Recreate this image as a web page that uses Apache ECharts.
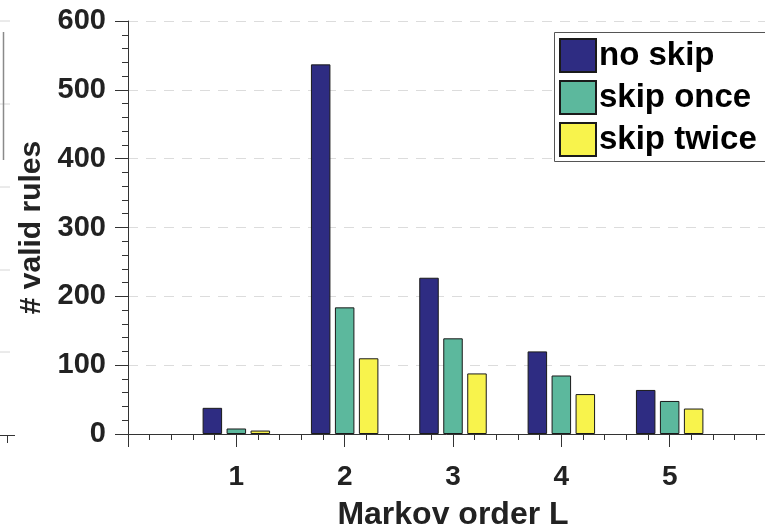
<!DOCTYPE html>
<html>
<head>
<meta charset="utf-8">
<style>
  html, body { margin: 0; padding: 0; background: #ffffff; }
  #chart { width: 765px; height: 527px; }
</style>
<script src="https://cdn.jsdelivr.net/npm/echarts@6/dist/echarts.min.js"></script>
</head>
<body>
<div id="chart"></div>
<script>
// Markov order on the x axis
const orders = [1, 2, 3, 4, 5];
// Number of valid rules per order
const noSkip    = [38, 537, 227, 120, 64];
const skipOnce  = [8, 184, 139, 85, 48];
const skipTwice = [5, 110, 88, 58, 37];
const seriesNames = ['no skip', 'skip once', 'skip twice'];
const yTicks = [0, 100, 200, 300, 400, 500, 600];

const FONT = '"Liberation Sans", Arial, Helvetica, sans-serif';
const colors = ['#2e2c82', '#5cb89d', '#f8f34c'];

function pairs(values) {
  return orders.map((o, i) => [o, values[i]]);
}

function barSeries(name, values, color) {
  return {
    name: name,
    type: 'bar',
    data: pairs(values),
    barWidth: 19.5,
    barGap: '23%',
    itemStyle: { color: color, borderColor: '#1a1a1a', borderWidth: 1 },
    emphasis: { disabled: true }
  };
}

const chart = echarts.init(document.getElementById('chart'), null, { renderer: 'canvas' });

// pieces of the neighbouring panel visible on the far left
const decor = [];
[21, 104, 187, 270, 352].forEach(function (y) {
  decor.push({ type: 'line', shape: { x1: 0, y1: y, x2: 10, y2: y },
    style: { stroke: '#d6d6d6', lineWidth: 1 } });
});
decor.push({ type: 'line', shape: { x1: 3.5, y1: 32, x2: 3.5, y2: 160 },
  style: { stroke: '#8a8a8a', lineWidth: 1.5 } });
decor.push({ type: 'line', shape: { x1: 0, y1: 435.5, x2: 15, y2: 435.5 },
  style: { stroke: '#333', lineWidth: 1 } });
decor.push({ type: 'line', shape: { x1: 7.5, y1: 435.5, x2: 7.5, y2: 443 },
  style: { stroke: '#333', lineWidth: 1 } });
// legend frame, which runs off the right edge of the canvas
decor.push({ type: 'rect', z: 3, shape: { x: 554.5, y: 32.5, width: 240, height: 129 },
  style: { fill: '#ffffff', stroke: '#555555', lineWidth: 1 } });

chart.setOption({
  animation: false,
  backgroundColor: '#ffffff',
  textStyle: { fontFamily: FONT },
  graphic: decor,
  // the plot runs slightly past the right edge of the canvas
  grid: { left: 128, top: 21, width: 650, bottom: 93, containLabel: false, outerBoundsMode: 'none' },
  legend: {
    data: seriesNames,
    left: 554,
    top: 32,
    z: 5,
    orient: 'vertical',
    icon: 'rect',
    itemWidth: 36,
    itemHeight: 33,
    itemGap: 7,
    padding: [6, 0, 6, 5],
    borderWidth: 0,
    textStyle: { fontFamily: FONT, fontSize: 33, fontWeight: 'bold', color: '#000', padding: [0, 0, 0, -2] },
    selectedMode: false
  },
  xAxis: {
    type: 'value',
    min: 0,
    max: 6,
    interval: 1,
    name: 'Markov order L',
    nameLocation: 'middle',
    nameGap: 65,
    nameTextStyle: { fontFamily: FONT, fontSize: 32, fontWeight: 'bold', color: '#222' },
    axisLine: { show: true, onZero: false, lineStyle: { color: '#333', width: 1 } },
    axisTick: { show: true, inside: false, length: 13, lineStyle: { color: '#333' } },
    minorTick: { show: true, splitNumber: 5, length: 6, lineStyle: { color: '#333' } },
    splitLine: { show: false },
    axisLabel: {
      margin: 29,
      fontFamily: FONT, fontSize: 28, fontWeight: 'bold', color: '#222',
      formatter: function (v) { return orders.indexOf(v) >= 0 ? String(v) : ''; }
    }
  },
  yAxis: {
    type: 'value',
    min: yTicks[0],
    max: yTicks[yTicks.length - 1],
    interval: 100,
    name: '# valid rules',
    nameLocation: 'middle',
    nameGap: 78,
    nameRotate: 90,
    nameTextStyle: { fontFamily: FONT, fontSize: 30, fontWeight: 'bold', color: '#222' },
    axisLine: { show: true, lineStyle: { color: '#333', width: 1 } },
    axisTick: { show: true, inside: false, length: 13, lineStyle: { color: '#333' } },
    minorTick: { show: true, splitNumber: 5, length: 6, lineStyle: { color: '#333' } },
    splitLine: { show: true, lineStyle: { color: '#dcdcdc', type: [10, 8], width: 1 } },
    axisLabel: {
      margin: 22,
      fontFamily: FONT, fontSize: 29, fontWeight: 'bold', color: '#222'
    }
  },
  series: [
    barSeries(seriesNames[0], noSkip, colors[0]),
    barSeries(seriesNames[1], skipOnce, colors[1]),
    barSeries(seriesNames[2], skipTwice, colors[2])
  ]
});
</script>
</body>
</html>
